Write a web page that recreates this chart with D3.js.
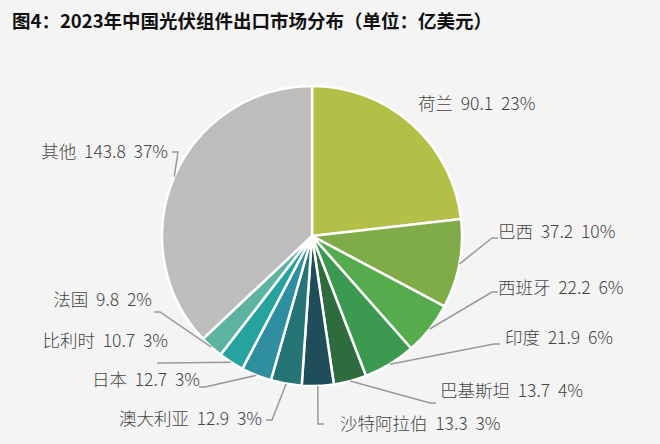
<!DOCTYPE html>
<html><head><meta charset="utf-8">
<script src="https://cdn.jsdelivr.net/npm/d3@7"></script>
<style>body{margin:0;background:#f4f4f4;font-family:"Noto Sans CJK SC","Noto Sans",sans-serif}</style>
</head><body><svg id="c" width="660" height="444"></svg>
<script>
var names = ["荷兰","巴西","西班牙","印度","巴基斯坦","沙特阿拉伯","澳大利亚","日本","比利时","法国","其他"]
var values = [90.1,37.2,22.2,21.9,13.7,13.3,12.9,12.7,10.7,9.8,143.8]
var pcts = ["23%","10%","6%","6%","4%","3%","3%","3%","3%","2%","37%"]
var colors = ["#b3c048","#7fab48","#56ab4c","#3c9a50","#2e6c3e","#1f4e5a","#257577","#2f8ea0","#26a39f","#5db3a2","#bdbdbd"]

// label layout: text anchor point, elbow point, anchor side
var labelAt = [
  [418,110,null,"start"],[498,238,[492,238],"start"],[498,294,[492,292],"start"],[505,344,[494,344],"start"],
  [440,397,[430,403],"start"],[340,430,[318,424],"start"],[262,425,[272,420],"end"],
  [200,386,[205,387],"end"],[168,347,[163,363],"end"],[152,306,[160,312],"end"],[168,158,[178,152],"end"]
]

var svg = d3.select("#c")
var cx = 312, cy = 236, r = 150

svg.append("text").attr("x",12).attr("y",28).attr("font-size",18.5).attr("font-weight","bold")
  .attr("fill","#111").text("图4：2023年中国光伏组件出口市场分布（单位：亿美元）")

var pie = d3.pie().sort(null).value(function(d){ return d })
var arc = d3.arc().innerRadius(0).outerRadius(r)
var arcs = pie(values)

var g = svg.append("g").attr("transform","translate("+cx+","+cy+")")
g.selectAll("path").data(arcs).enter().append("path")
  .attr("d",arc).attr("fill",function(d,i){ return colors[i] })
  .attr("stroke","#fff").attr("stroke-width",2.5)

arcs.forEach(function(d,i){
  var L = labelAt[i], a = (d.startAngle+d.endAngle)/2
  var px = cx + Math.sin(a)*r, py = cy - Math.cos(a)*r
  if (L[2]) {
    svg.append("polyline").attr("fill","none").attr("stroke","#999").attr("stroke-width",1.5)
      .attr("points",[[px,py],L[2],[L[2][0]+(L[3]=="start"?6:-6),L[2][1]]].join(" "))
  }
  svg.append("text").attr("x",L[0]).attr("y",L[1]).attr("text-anchor",L[3])
    .attr("xml:space","preserve").style("white-space","pre")
    .attr("font-size",17.5).attr("font-weight",300).attr("fill","#444")
    .text(names[i]+"  "+values[i]+"  "+pcts[i])
})
</script></body></html>
